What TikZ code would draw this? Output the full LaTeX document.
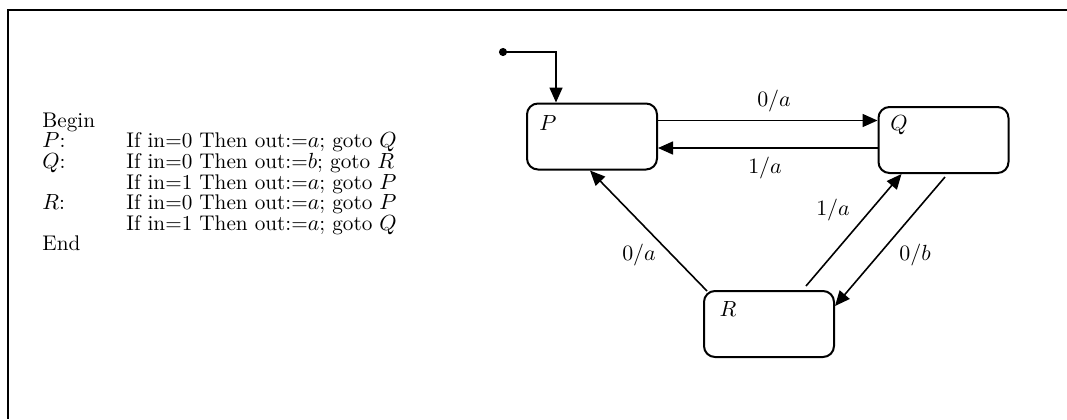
\documentclass[tikz,border=0pt]{standalone}
\usetikzlibrary{arrows.meta,calc}
\begin{document}
\begin{tikzpicture}[x=0.5pt,y=-0.5pt,
  state/.style={draw,line width=1pt,rounded corners=5.5pt,minimum width=65pt,minimum height=33pt,inner sep=0pt},
  conn/.style={line width=0.8pt,-{Triangle[length=7.5pt,width=6.5pt]}},
  lab/.style={inner sep=1pt,font=\fontsize{10.5}{12}\selectfont},
  frame/.style={line width=1.2pt}]
\useasboundingbox (0,0) rectangle (1067,419);
\draw[frame] (1067,10) -- (8,10) -- (8,419);
\node[anchor=base west,inner sep=0pt,font=\fontsize{10.6}{9.5}\selectfont] (prog) at (42,127) {%
\begin{tabular}[t]{@{}p{42pt}@{}l@{}}
Begin & \\
$P$: & If in=0 Then out:=$a$; goto $Q$\\
$Q$: & If in=0 Then out:=$b$; goto $R$\\
 & If in=1 Then out:=$a$; goto $P$\\
$R$: & If in=0 Then out:=$a$; goto $P$\\
 & If in=1 Then out:=$a$; goto $Q$\\
End &
\end{tabular}};
\node[state] (P) at (592,136.5) {};
\node[state] (Q) at (943.5,140) {};
\node[state] (R) at (769,324) {};
\node[lab] (Pl) at (548,123) {$P$};
\node[lab] (Ql) at (899,125) {$Q$};
\node[lab] (Rl) at (728,309) {$R$};
\coordinate (init) at (499,52);
\coordinate (pin) at ($(P.north west)+(30,0)$);
\draw[line width=0.8pt,{Circle[length=4pt]}-{Triangle[length=7.5pt,width=6.5pt]}] (init) -| (pin);
\coordinate (pq) at ($(P.north east)+(0,18)$);
\coordinate (qp) at ($(Q.north west)+(0,42)$);
\draw[conn] (pq) -- (pq -| Q.west);
\draw[conn] (qp) -- (qp -| P.east);
\draw[conn] ($(R.north west)+(4,1)$) -- ($(P.south)+(-2,0)$);
\draw[conn] ($(R.north)+(37,-4)$) -- ($(Q.south west)+(24,0)$);
\draw[conn] ($(Q.south)+(1.5,3)$) -- ($(R.north east)+(0,16)$);
\node[lab] (l1) at (774,101) {$0/a$};
\node[lab] (l2) at (765,168) {$1/a$};
\node[lab] (l3) at (639,255) {$0/a$};
\node[lab] (l4) at (833,210) {$1/a$};
\node[lab] (l5) at (915,255) {$0/b$};
\end{tikzpicture}
\end{document}
